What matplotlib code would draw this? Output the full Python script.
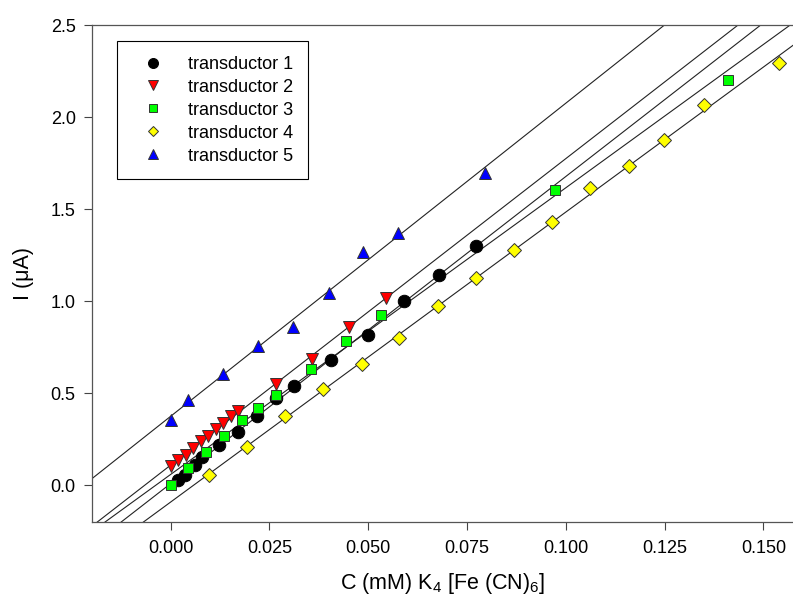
import numpy as np
import matplotlib
matplotlib.use("Agg")
import matplotlib.pyplot as plt

plt.rcParams["font.family"] = ["Liberation Sans", "DejaVu Sans"]
plt.rcParams["mathtext.fontset"] = "custom"
plt.rcParams["mathtext.rm"] = "Liberation Sans"
plt.rcParams["mathtext.it"] = "Liberation Sans:italic"

# values: C (mM) vs I (uA)
t1_x = [0.0019, 0.0036, 0.0062, 0.0078, 0.0123, 0.0171, 0.0218, 0.0266, 0.0312,
        0.0406, 0.0499, 0.0591, 0.0680, 0.0772]
t1_y = [0.031, 0.058, 0.112, 0.157, 0.221, 0.288, 0.375, 0.474, 0.541,
        0.682, 0.818, 1.000, 1.144, 1.301]

t2_x = [0.0000, 0.0019, 0.0038, 0.0057, 0.0076, 0.0095, 0.0115, 0.0133, 0.0152,
        0.0171, 0.0266, 0.0358, 0.0451, 0.0544]
t2_y = [0.103, 0.136, 0.167, 0.203, 0.239, 0.271, 0.306, 0.339, 0.375,
        0.406, 0.552, 0.689, 0.863, 1.017]

t3_x = [0.0000, 0.0045, 0.0089, 0.0135, 0.0180, 0.0222, 0.0266, 0.0354, 0.0443,
        0.0532, 0.0972, 0.1411]
t3_y = [0.000, 0.094, 0.181, 0.271, 0.353, 0.423, 0.492, 0.632, 0.782,
        0.923, 1.602, 2.201]

t4_x = [0.0097, 0.0192, 0.0289, 0.0385, 0.0483, 0.0579, 0.0676, 0.0772, 0.0870,
        0.0966, 0.1061, 0.1161, 0.1249, 0.1351, 0.1540]
t4_y = [0.058, 0.208, 0.378, 0.523, 0.659, 0.800, 0.972, 1.126, 1.280,
        1.433, 1.615, 1.736, 1.877, 2.063, 2.296]

t5_x = [0.0000, 0.0045, 0.0133, 0.0222, 0.0310, 0.0401, 0.0487, 0.0576, 0.0796]
t5_y = [0.357, 0.465, 0.606, 0.758, 0.862, 1.045, 1.270, 1.370, 1.696]

labels = ["transductor 1", "transductor 2", "transductor 3", "transductor 4", "transductor 5"]

series = [
    (t1_x, t1_y, "o", "black", "black", 9.0),
    (t2_x, t2_y, "v", "red", "#333333", 8.5),
    (t3_x, t3_y, "s", "#00ff00", "#333333", 7.5),
    (t4_x, t4_y, "D", "yellow", "#333333", 7.0),
    (t5_x, t5_y, "^", "blue", "#333333", 8.5),
]

fig = plt.figure(figsize=(7.93, 6.04), dpi=100)
ax = fig.add_axes([0.1156, 0.1353, 1.0 - 0.1156, 0.9586 - 0.1353])

xlo, xhi = -0.02, 0.1575
xx = np.array([xlo, xhi])
handles = []
for (x, y, m, fc, ec, ms), lab in zip(series, labels):
    # least-squares line for each transductor, drawn across the whole axis
    k, b = np.polyfit(x, y, 1)
    ax.plot(xx, k * xx + b, color="#222222", lw=0.8, zorder=2)
    h, = ax.plot(x, y, ls="none", marker=m, ms=ms, mfc=fc, mec=ec, mew=0.7,
                 label=lab, zorder=3)
    handles.append(h)

ax.set_xlim(xlo, xhi)
ax.set_ylim(-0.2, 2.5)
ax.set_xticks([0.0, 0.025, 0.05, 0.075, 0.1, 0.125, 0.15])
ax.set_xticklabels(["0.000", "0.025", "0.050", "0.075", "0.100", "0.125", "0.150"])
ax.set_yticks([0.0, 0.5, 1.0, 1.5, 2.0, 2.5])
ax.set_yticklabels(["0.0", "0.5", "1.0", "1.5", "2.0", "2.5"])
ax.tick_params(direction="out", length=5.5, width=0.8, labelsize=13, color="#444444")
ax.tick_params(axis="x", pad=7)
ax.tick_params(axis="y", pad=6)
ax.spines["right"].set_visible(False)
for s in ["left", "top", "bottom"]:
    ax.spines[s].set_color("#555555")
    ax.spines[s].set_linewidth(0.9)

ax.set_xlabel("C (mM) K$_4$ [Fe (CN)$_6$]", fontsize=15.5, labelpad=10)
ax.set_ylabel("I (μA)", fontsize=15.5, labelpad=12)

leg = ax.legend(handles=handles, loc="upper left", bbox_to_anchor=(0.036, 0.967),
                fontsize=13, markerscale=0.8, handlelength=2.4, handletextpad=0.75,
                labelspacing=0.33, borderpad=0.8, borderaxespad=0, fancybox=False,
                framealpha=1, edgecolor="black")
leg.get_frame().set_linewidth(0.8)

fig.savefig("out.png", dpi=100)
